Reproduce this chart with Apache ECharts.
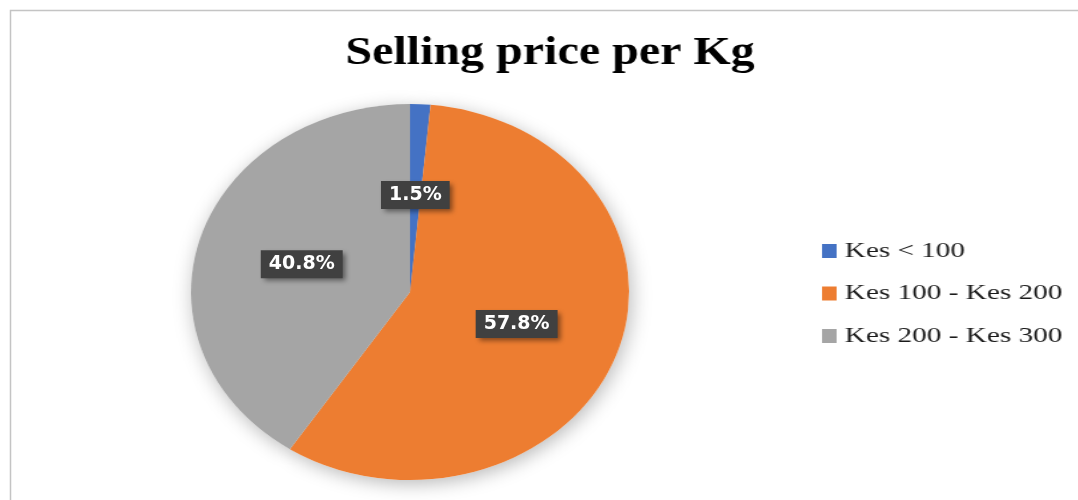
<!DOCTYPE html>
<html lang="en">

<head>
    <meta charset="UTF-8">
    <title>Selling price per Kg</title>
    <style>
        * {
            margin: 0;
            padding: 0;
        }

        html,
        body {
            width: 1078px;
            height: 500px;
            overflow: hidden;
            background: #fff;
        }

        .layer {
            position: absolute;
            left: 0;
            top: 0;
            width: 1078px;
            height: 500px;
        }

        /* the source picture is stretched sideways, so some layers are too */
        #pie {
            transform: scaleX(1.165);
            transform-origin: 410px 0;
        }

        #head {
            transform: scaleX(1.2);
            transform-origin: 550px 0;
        }

        #legend {
            transform: scaleX(1.33);
            transform-origin: 822px 0;
        }
    </style>
</head>

<body>
    <div id="pie" class="layer"></div>
    <div id="front" class="layer"></div>
    <div id="head" class="layer"></div>
    <div id="legend" class="layer"></div>
    <script src="https://cdn.jsdelivr.net/npm/echarts@6/dist/echarts.min.js"></script>
    <script>
        let categories = ['Kes < 100', 'Kes 100 - Kes 200', 'Kes 200 - Kes 300'];
        let shares = [1.5, 57.8, 40.8];
        let colors = ['#4472C4', '#ED7D31', '#A5A5A5'];

        let stretch = 1.165;
        let cx = 410;
        let cy = 292;
        let r = 188;

        let pieData = categories.map((name, i) => ({
            name: name,
            value: shares[i],
            itemStyle: { color: colors[i] }
        }));

        // slices (stretched by css)
        let pieChart = echarts.init(document.getElementById('pie'));
        pieChart.setOption({
            animation: false,
            series: [{
                // soft shadow under the whole pie
                type: 'pie',
                silent: true,
                center: [cx, cy],
                radius: r,
                startAngle: 90,
                label: { show: false },
                labelLine: { show: false },
                itemStyle: {
                    color: '#fff',
                    shadowBlur: 18,
                    shadowColor: 'rgba(0,0,0,0.28)',
                    shadowOffsetX: 2,
                    shadowOffsetY: 4
                },
                data: shares.map((v, i) => ({ name: categories[i], value: v }))
            }, {
                type: 'pie',
                center: [cx, cy],
                radius: r,
                startAngle: 90,
                label: { show: false },
                labelLine: { show: false },
                itemStyle: { borderWidth: 0 },
                data: pieData
            }]
        });

        // data labels + frame, not stretched
        let front = echarts.init(document.getElementById('front'));
        front.setOption({
            animation: false,
            graphic: [{
                type: 'rect',
                silent: true,
                shape: { x: 10.5, y: 10.5, width: 1200, height: 600 },
                style: { fill: null, stroke: '#c4c4c4', lineWidth: 1.5 }
            }],
            series: [{
                type: 'pie',
                silent: true,
                center: [cx, cy],
                radius: r,
                startAngle: 90,
                itemStyle: { color: 'rgba(0,0,0,0)' },
                label: {
                    show: true,
                    position: 'inside',
                    formatter: '{c}%',
                    fontFamily: 'DejaVu Sans',
                    fontWeight: 'bold',
                    fontSize: 19,
                    color: '#fff',
                    backgroundColor: '#404040',
                    padding: [5, 8, 4, 8],
                    shadowBlur: 5,
                    shadowColor: 'rgba(0,0,0,0.45)',
                    shadowOffsetX: 3,
                    shadowOffsetY: 3
                },
                labelLine: { show: false },
                // move labels out the same way the pie layer is stretched
                labelLayout: function(params) {
                    let rect = params.labelRect;
                    let mx = rect.x + rect.width / 2;
                    return {
                        x: cx + (mx - cx) * stretch,
                        y: rect.y + rect.height / 2
                    };
                },
                data: shares.map((v, i) => ({ name: categories[i], value: v }))
            }]
        });

        // title
        let head = echarts.init(document.getElementById('head'));
        head.setOption({
            animation: false,
            title: {
                text: 'Selling price per Kg',
                left: 550,
                top: 34,
                padding: 0,
                textAlign: 'center',
                textStyle: {
                    fontFamily: 'Liberation Serif',
                    fontWeight: 'bold',
                    fontSize: 40,
                    color: '#000'
                }
            }
        });

        // legend
        let legend = echarts.init(document.getElementById('legend'));
        legend.setOption({
            animation: false,
            legend: {
                orient: 'vertical',
                left: 822,
                top: 240,
                padding: 0,
                icon: 'rect',
                itemWidth: 11,
                itemHeight: 14,
                itemGap: 20.5,
                selectedMode: false,
                data: categories.map((name, i) => ({
                    name: name,
                    itemStyle: { color: colors[i] }
                })),
                textStyle: {
                    fontFamily: 'Liberation Serif',
                    fontSize: 22,
                    lineHeight: 22,
                    color: '#1a1a1a',
                    padding: [0, 0, 0, 1]
                }
            },
            series: [{
                type: 'pie',
                radius: 0,
                center: [-100, -100],
                silent: true,
                label: { show: false },
                data: shares.map((v, i) => ({ name: categories[i], value: v }))
            }]
        });
    </script>
</body>

</html>
